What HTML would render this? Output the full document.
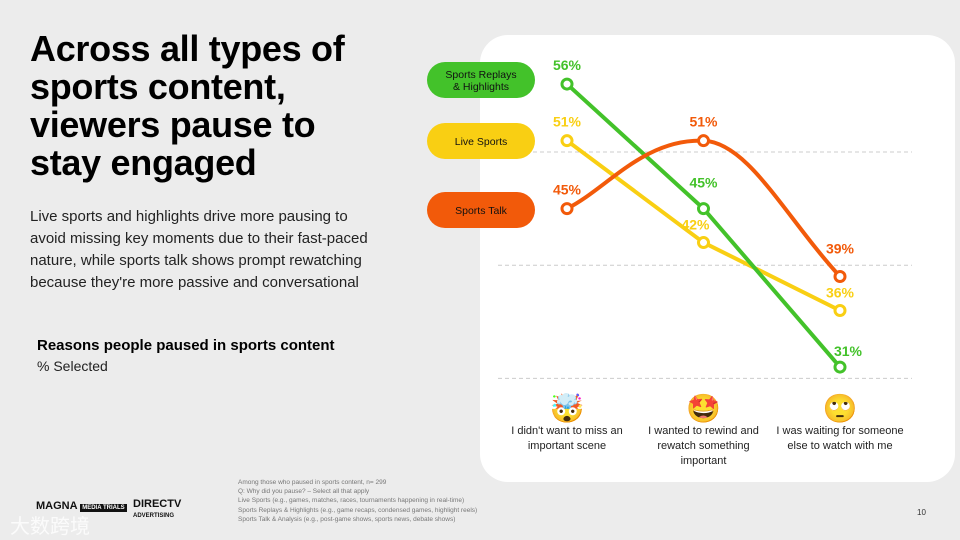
<!DOCTYPE html>
<html><head><meta charset="utf-8"><style>
body{margin:0;width:960px;height:540px;background:#ececec;font-family:"Liberation Sans",sans-serif;position:relative;overflow:hidden}
.abs{position:absolute}
h1{position:absolute;left:30px;top:30px;margin:0;font-size:36px;line-height:38px;font-weight:bold;color:#000;letter-spacing:-0.3px}
.sub{left:30px;top:206px;font-size:15px;line-height:22px;color:#222;white-space:nowrap}
.foot{left:238px;top:478px;font-size:6.5px;line-height:9.2px;color:#777}
</style></head><body>
<h1>Across all types of<br>sports content,<br>viewers pause to<br>stay engaged</h1>
<div class="abs sub">Live sports and highlights drive more pausing to<br>avoid missing key moments due to their fast-paced<br>nature, while sports talk shows prompt rewatching<br>because they're more passive and conversational</div>
<div class="abs" style="left:37px;top:337px;font-size:15px;font-weight:bold">Reasons people paused in sports content</div>
<div class="abs" style="left:37px;top:358px;font-size:14px;color:#222">% Selected</div>
<div class="abs" style="left:480px;top:35px;width:475px;height:447px;background:#fff;border-radius:28px"></div>
<svg class="abs" style="left:0;top:0" width="960" height="540" id="chart"></svg>
<div class="abs foot">Among those who paused in sports content, n= 299<br>Q: Why did you pause? – Select all that apply<br>Live Sports (e.g., games, matches, races, tournaments happening in real-time)<br>Sports Replays &amp; Highlights (e.g., game recaps, condensed games, highlight reels)<br>Sports Talk &amp; Analysis (e.g., post-game shows, sports news, debate shows)</div>
<div class="abs" style="left:36px;top:500px;font-size:11px;font-weight:900;color:#111">MAGNA <span style="background:#111;color:#fff;font-size:6px;padding:1px 2px">MEDIA TRIALS</span></div>
<div class="abs" style="left:133px;top:499px;font-size:11px;font-weight:900;line-height:10px;color:#111">DIRECTV<br><span style="font-size:6px">ADVERTISING</span></div>
<div class="abs" style="left:10px;top:510px;font-size:20px;color:#fff;opacity:.8;font-family:'Liberation Sans','Noto Sans CJK SC',sans-serif">大数跨境</div>
<div class="abs" style="left:917px;top:508px;font-size:8px;color:#333">10</div>
<script>
const categories=["I didn't want to miss an|important scene","I wanted to rewind and|rewatch something|important","I was waiting for someone|else to watch with me"];
const emojis=["🤯","🤩","🙄"];
const seriesNames=["Sports Replays & Highlights","Live Sports","Sports Talk"];
const replays=[56,45,31];
const live=[51,42,36];
const talk=[45,51,39];
const gridVals=[50,40,30];
const NS="http://www.w3.org/2000/svg",svg=document.getElementById('chart');
const xs=i=>567+i*136.5, ys=v=>718-11.32*v;
function el(t,a,p){const e=document.createElementNS(NS,t);for(const k in a)e.setAttribute(k,a[k]);(p||svg).appendChild(e);return e}
gridVals.forEach(v=>{const g=el('line',{x1:498,x2:912,y1:ys(v),y2:ys(v),stroke:'#ccc','stroke-dasharray':'4 3','stroke-width':1});

});
const series=[{d:live,c:'#f9cf13',curve:false,lab:[[0,-14],[-8,-13],[0,-13]]},{d:replays,c:'#43c22a',curve:false,lab:[[0,-14],[0,-21],[8,-11]]},{d:talk,c:'#f25a0a',curve:true,lab:[[0,-14],[0,-14],[0,-23]]}];
series.forEach((s,si)=>{
 const P=s.d.map((v,i)=>[xs(i),ys(v)]);let d='M'+P[0];
 if(s.curve){
  const a=P[0],b=P[1],c=P[2];
  d+=' C'+[a[0]+40,a[1]-20]+' '+[b[0]-60,b[1]-2]+' '+b;
  d+=' C'+[b[0]+45,b[1]+2]+' '+[c[0]-55,c[1]-60]+' '+c;
 }
 else P.forEach((p,i)=>{if(i)d+=' L'+p});
 const path=el('path',{d:d,fill:'none',stroke:s.c,'stroke-width':4});
 
 
 s.P=P;});
series.forEach(s=>{s.P.forEach((p,i)=>{
 const c=el('circle',{cx:p[0],cy:p[1],r:5,fill:'#fff',stroke:s.c,'stroke-width':3});
 
 
 const t=el('text',{x:p[0]+s.lab[i][0],y:p[1]+s.lab[i][1],'text-anchor':'middle','font-size':14,'font-weight':'bold',fill:s.c});
 t.textContent=s.d[i]+'%';
 
 });});
categories.forEach((c,i)=>{
 const e=el('text',{x:xs(i),y:418,'text-anchor':'middle','font-size':28,'font-family':'Noto Color Emoji,DejaVu Sans,sans-serif'});e.textContent=emojis[i];
 
 
 c.split('|').forEach((ln,j)=>{const t=el('text',{x:xs(i),y:434+j*15,'text-anchor':'middle','font-size':11,fill:'#222'});t.textContent=ln;
 
 });});
const legY=[80,141,210],legC=['#43c22a','#f9cf13','#f25a0a'];
seriesNames.forEach((n,i)=>{
 const r=el('rect',{x:427,y:legY[i]-18,width:108,height:36,rx:18,fill:legC[i]});
 
 
 const lines=i==0?['Sports Replays','& Highlights']:[n];
 lines.forEach((ln,j)=>{const t=el('text',{x:481,y:legY[i]+4+(lines.length>1?(j-0.5)*12:0),'text-anchor':'middle','font-size':10.5,fill:'#111'});t.textContent=ln;
 
 });});
</script>
</body></html>
